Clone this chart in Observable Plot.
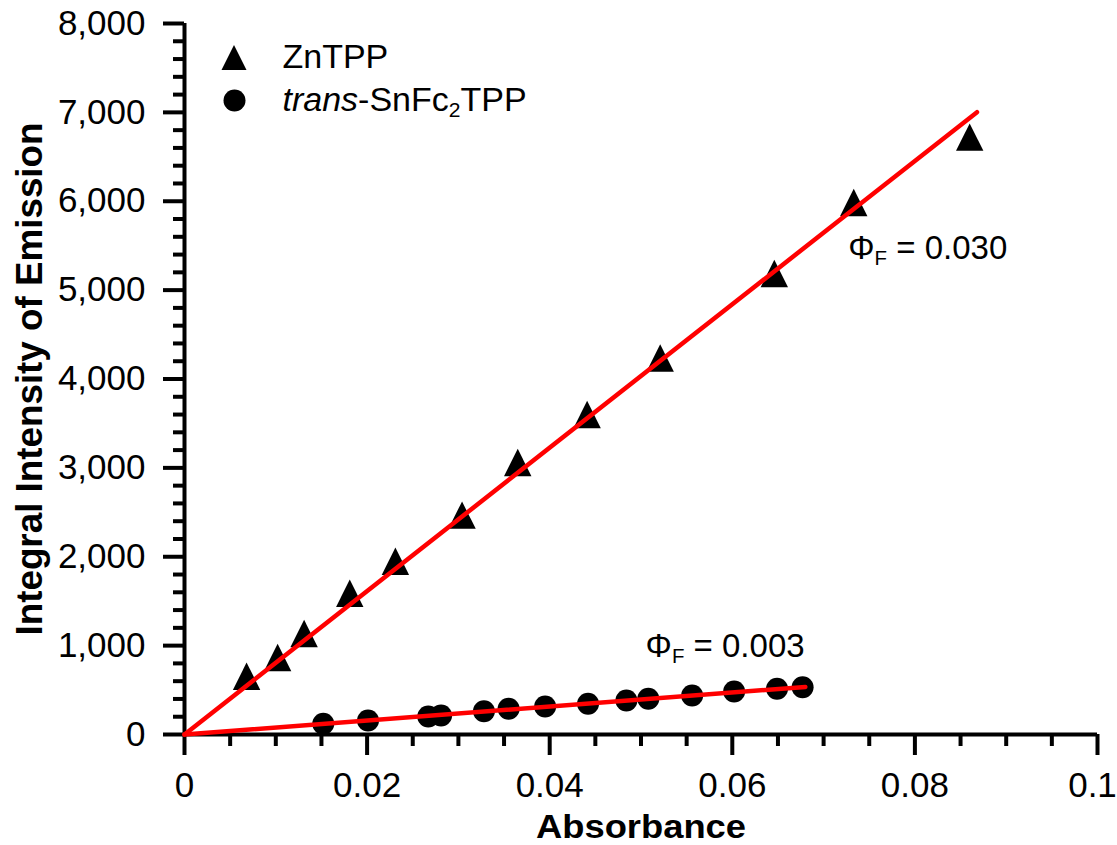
<!DOCTYPE html>
<html>
<head>
<meta charset="utf-8">
<script src="https://cdn.jsdelivr.net/npm/d3@7"></script>
<script src="https://cdn.jsdelivr.net/npm/@observablehq/plot@0.6"></script>
<style>
  html, body { margin: 0; padding: 0; background: #ffffff; }
  #chart svg { display: block; }
</style>
</head>
<body>
<div id="chart"></div>
<script>
// ---- Data ----
const znAbs = [0.0068, 0.0102, 0.0131, 0.0181, 0.0231, 0.0304, 0.0365, 0.0441, 0.0521, 0.0646, 0.0733, 0.0860];
const znInt = [656, 866, 1136, 1589, 1949, 2468, 3060, 3601, 4236, 5187, 5986, 6721];

const snAbs = [0.0152, 0.0201, 0.0267, 0.0281, 0.0328, 0.0355, 0.0395, 0.0442, 0.0484, 0.0508, 0.0556, 0.0602, 0.0649, 0.0677];
const snInt = [120, 158, 203, 214, 262, 289, 315, 345, 383, 402, 439, 484, 514, 532];

const fitZnAbs = [0, 0.0868];
const fitZnInt = [0, 7002];
const fitSnAbs = [0, 0.0680];
const fitSnInt = [0, 535];

const xTicks = [0, 0.02, 0.04, 0.06, 0.08, 0.1];
const xTickLabels = ["0", "0.02", "0.04", "0.06", "0.08", "0.1"];
const xMinorTicks = [0.005, 0.01, 0.015, 0.025, 0.03, 0.035, 0.045, 0.05, 0.055, 0.065, 0.07, 0.075, 0.085, 0.09, 0.095];
const yTicks = [0, 1000, 2000, 3000, 4000, 5000, 6000, 7000, 8000];
const yTickLabels = ["0", "1,000", "2,000", "3,000", "4,000", "5,000", "6,000", "7,000", "8,000"];
const yMinorTicks = [200, 400, 600, 800, 1200, 1400, 1600, 1800, 2200, 2400, 2600, 2800, 3200, 3400, 3600, 3800,
  4200, 4400, 4600, 4800, 5200, 5400, 5600, 5800, 6200, 6400, 6600, 6800, 7200, 7400, 7600, 7800];

const annoAbs = [0.0727, 0.0505];
const annoInt = [5468, 990];
const annoText = ["ΦF = 0.030", "ΦF = 0.003"];

const seriesNames = ["ZnTPP", "trans-SnFc₂TPP"];
const xTitle = "Absorbance";
const yTitle = "Integral Intensity of Emission";

// ---- Build tables ----
const zn = znAbs.map((a, i) => ({a, v: znInt[i]}));
const sn = snAbs.map((a, i) => ({a, v: snInt[i]}));
const fitZn = fitZnAbs.map((a, i) => ({a, v: fitZnInt[i]}));
const fitSn = fitSnAbs.map((a, i) => ({a, v: fitSnInt[i]}));
const annos = annoAbs.map((a, i) => ({a, v: annoInt[i], t: annoText[i]}));
const xLabelMap = new Map(xTicks.map((t, i) => [t, xTickLabels[i]]));
const yLabelMap = new Map(yTicks.map((t, i) => [t, yTickLabels[i]]));

// custom upright triangle with equal width and height, centred on its box
const tri = {
  draw(context, size) {
    const r = Math.sqrt(size / Math.PI);
    context.moveTo(0, -r);
    context.lineTo(r, r);
    context.lineTo(-r, r);
    context.closePath();
  }
};

const font = "'Liberation Sans', Arial, Helvetica, sans-serif";

const chart = Plot.plot({
  width: 1117,
  height: 845,
  marginLeft: 184,
  marginRight: 20,
  marginTop: 23,
  marginBottom: 111,
  x: {domain: [0, 0.1]},
  y: {domain: [0, 8000]},
  style: {fontFamily: font, color: "black", background: "white"},
  marks: [
    // minor ticks
    Plot.axisX(xMinorTicks, {tickSize: 12, strokeWidth: 4, tickFormat: () => "", label: null}),
    Plot.axisY(yMinorTicks, {tickSize: 11, strokeWidth: 4, tickFormat: () => "", label: null}),
    // major ticks + labels
    Plot.axisX(xTicks, {tickSize: 21, strokeWidth: 4, tickPadding: 17, fontSize: 35,
      tickFormat: d => xLabelMap.get(d), label: null}),
    Plot.axisY(yTicks, {tickSize: 21, strokeWidth: 4, tickPadding: 18, fontSize: 35,
      tickFormat: d => yLabelMap.get(d), label: null}),
    // axis lines
    Plot.ruleX([0], {stroke: "black", strokeWidth: 4}),
    Plot.ruleY([0], {stroke: "black", strokeWidth: 4}),
    // axis titles
    Plot.text([xTitle], {text: d => d, frameAnchor: "bottom", dy: 93, lineAnchor: "middle", textAnchor: "middle",
      fontSize: 33, fontWeight: "bold"}),
    Plot.text([yTitle], {text: d => d, frameAnchor: "left", dx: -154.5, rotate: -90, lineAnchor: "middle",
      textAnchor: "middle", fontSize: 37, fontWeight: "bold"}),
    // data
    Plot.dot(zn, {x: "a", y: "v", symbol: tri, r: 13.7, fill: "black", stroke: "none"}),
    Plot.dot(sn, {x: "a", y: "v", symbol: "circle", r: 11, fill: "black", stroke: "none"}),
    Plot.line(fitZn, {x: "a", y: "v", stroke: "#ff0000", strokeWidth: 4.5}),
    Plot.line(fitSn, {x: "a", y: "v", stroke: "#ff0000", strokeWidth: 4.5}),
    // annotations
    Plot.text(annos, {x: "a", y: "v", text: "t", textAnchor: "start", lineAnchor: "middle", fontSize: 33, fill: "black"}),
    // legend
    Plot.dot([seriesNames[0]], {frameAnchor: "top-left", dx: 49.5, dy: 34, symbol: tri, r: 12.5, fill: "black", stroke: "none"}),
    Plot.dot([seriesNames[1]], {frameAnchor: "top-left", dx: 50, dy: 77, symbol: "circle", r: 11, fill: "black", stroke: "none"}),
    Plot.text([seriesNames[0]], {text: d => d, frameAnchor: "top-left", dx: 98, dy: 34, textAnchor: "start",
      lineAnchor: "middle", fontSize: 34}),
    Plot.text([seriesNames[1]], {text: d => d, frameAnchor: "top-left", dx: 98, dy: 77, textAnchor: "start",
      lineAnchor: "middle", fontSize: 34})
  ]
});

document.getElementById("chart").appendChild(chart);

// rich text: subscripts, italics, title widths
d3.select(chart).selectAll("text").each(function() {
  const el = d3.select(this);
  const t = this.textContent;
  if (t.startsWith("ΦF")) {
    const rest = t.slice(2);
    el.text(null);
    el.append("tspan").text("Φ");
    el.append("tspan").attr("font-size", "0.62em").attr("dy", "0.28em").text("F");
    el.append("tspan").attr("dy", "-0.174em").text(rest);
  } else if (t.startsWith("trans-")) {
    el.text(null);
    el.append("tspan").attr("font-style", "italic").text("trans");
    el.append("tspan").text("-SnFc");
    el.append("tspan").attr("font-size", "0.62em").attr("dy", "0.28em").text("2");
    el.append("tspan").attr("dy", "-0.174em").text("TPP");
  } else if (t === xTitle) {
    el.attr("textLength", 210).attr("lengthAdjust", "spacingAndGlyphs");
  } else if (t === yTitle) {
    el.attr("textLength", 513).attr("lengthAdjust", "spacingAndGlyphs");
  } else if (t === "0.1") {
    el.attr("dx", -5);
  }
});
</script>
</body>
</html>
